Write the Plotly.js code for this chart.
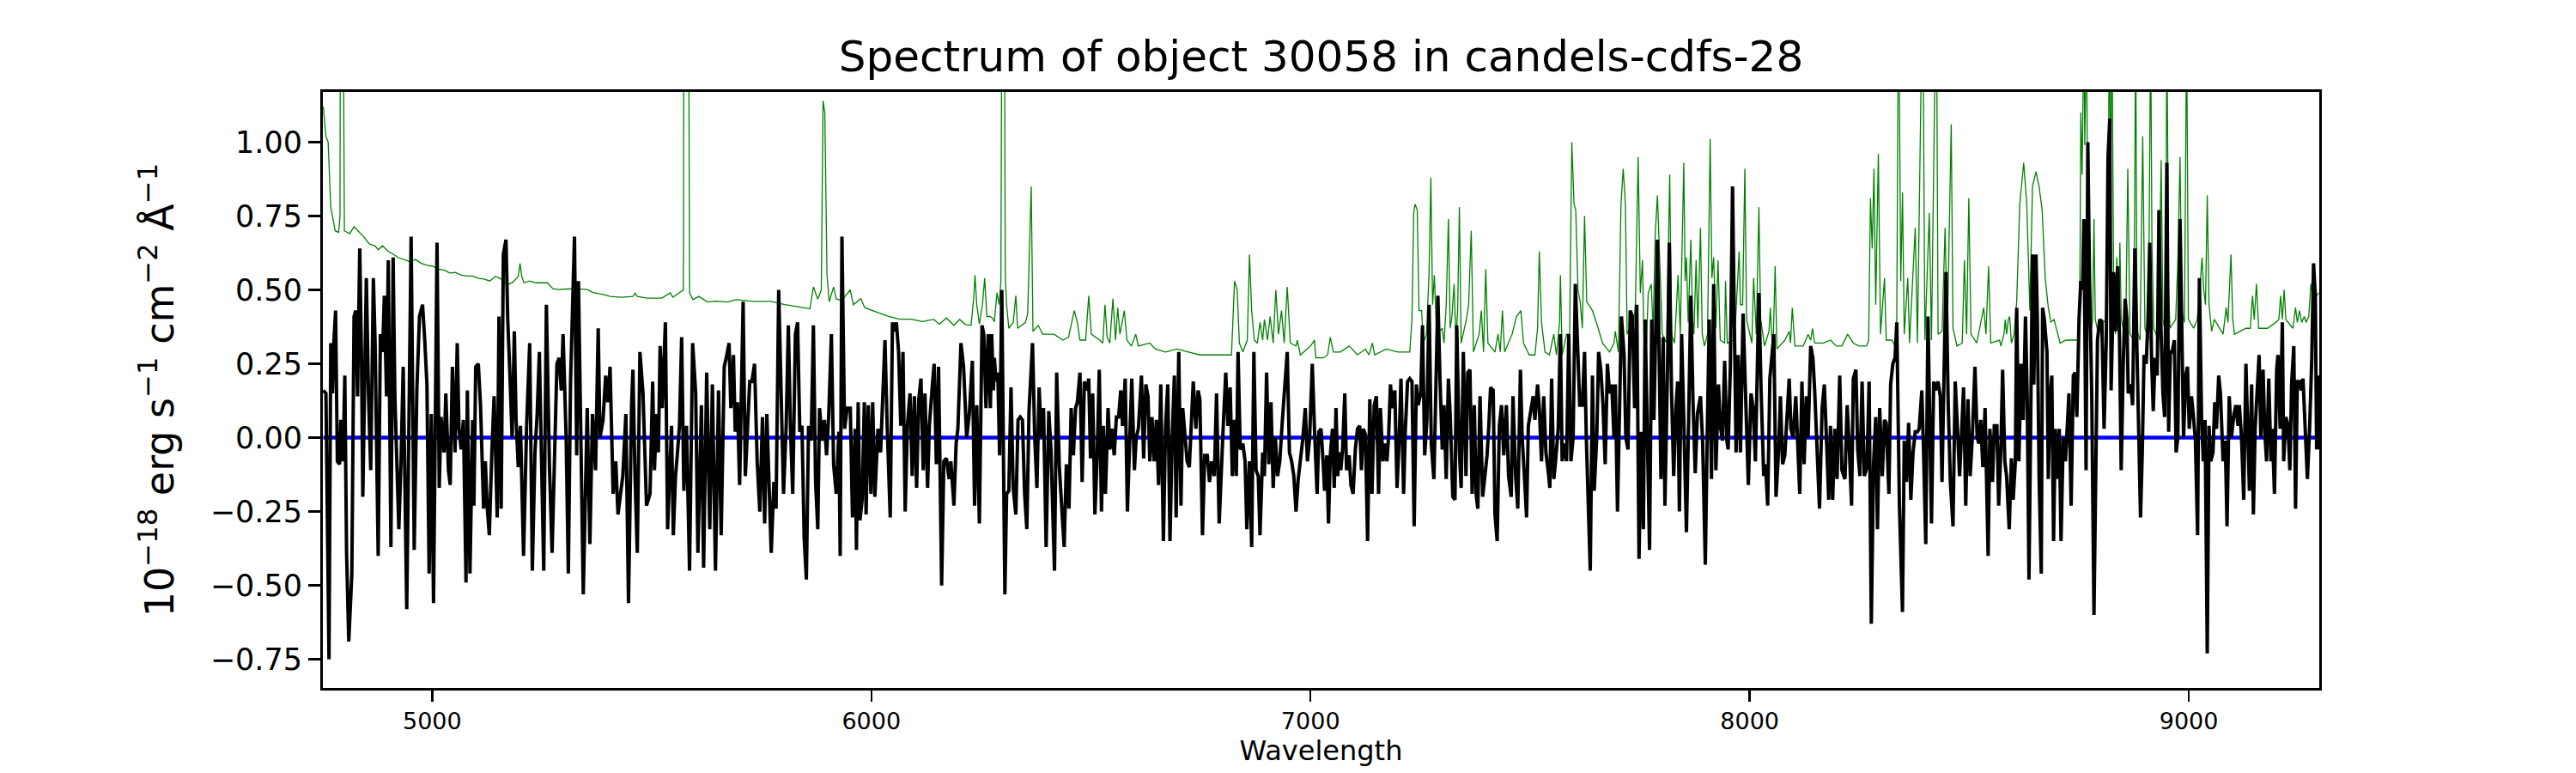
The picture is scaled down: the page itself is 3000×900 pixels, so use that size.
<!DOCTYPE html>
<html>
<head>
<meta charset="utf-8">
<script src="https://cdn.plot.ly/plotly-3.0.1.min.js"></script>
<style>
html,body{margin:0;padding:0;background:#fff;}
#chart{width:3000px;height:900px;}
</style>
</head>
<body>
<div id="chart"></div>
<script>
// Observed flux (black)
const lamFlux = [4752,4758,4765,4769,4773,4776,4780,4784,4789,4792,4797,4801,4805,4810,4817,4822,4826,4830,4835,4839,4842,4850,4855,4860,4866,4870,4877,4882,4887,4891,4896,4900,4906,4911,4915,4924,4929,4934,4942,4952,4959,4965,4971,4978,4983,4988,4993,4998,5003,5011,5016,5020,5027,5031,5037,5041,5046,5052,5057,5061,5066,5071,5077,5080,5086,5092,5095,5099,5105,5110,5117,5121,5125,5130,5136,5141,5148,5152,5157,5162,5168,5172,5177,5182,5187,5191,5196,5201,5208,5215,5222,5228,5234,5239,5244,5254,5260,5267,5273,5279,5284,5289,5294,5298,5305,5310,5315,5324,5329,5333,5339,5344,5353,5359,5365,5372,5378,5382,5389,5395,5400,5405,5412,5418,5423,5430,5434,5441,5447,5454,5457,5462,5467,5473,5480,5488,5496,5502,
5506,5511,5515,5519,5524,5528,5531,5536,5541,5545,5549,5554,5558,5563,5568,5573,5579,5586,5593,5600,5605,5613,5618,5625,5632,5638,5645,5652,5658,5665,5671,5676,5680,5686,5690,5695,5700,5708,5713,5718,5723,5728,5734,5740,5746,5752,5757,5762,5767,5772,5778,5783,5789,5795,5800,5806,5811,5816,5821,5827,5832,5837,5842,5847,5852,5857,5863,5868,5873,5878,5882,5888,5893,5898,5903,5909,5914,5920,5926,5929,5933,5939,5945,5952,5957,5963,5966,5970,5974,5979,5984,5988,5993,5999,6003,6008,6015,6021,6026,6031,6036,6043,6048,6052,6057,6062,6067,6072,6077,6082,6088,6093,6098,6103,6108,6113,6118,6122,6128,6132,6139,6143,6148,6153,6157,6160,6165,6171,6177,6181,6188,6193,6197,6204,6210,6217,6223,6230,6235,6240,6246,6252,6256,6261,
6266,6271,6274,6278,6280,6284,6288,6292,6297,6304,6308,6313,6318,6323,6329,6334,6339,6344,6349,6354,6359,6367,6372,6377,6382,6387,6392,6398,6404,6409,6417,6422,6428,6433,6439,6444,6450,6455,6460,6465,6469,6475,6480,6485,6491,6495,6499,6504,6509,6514,6519,6524,6528,6533,6539,6543,6548,6553,6558,6563,6568,6572,6578,6583,6589,6593,6599,6603,6608,6615,6620,6625,6630,6634,6639,6644,6649,6654,6659,6665,6670,6675,6680,6685,6690,6694,6700,6705,6709,6715,6719,6724,6729,6733,6739,6744,6748,6754,6759,6765,6770,6775,6781,6786,6792,6796,6801,6807,6812,6817,6822,6827,6831,6835,6840,6846,6851,6855,6861,6866,6871,6876,6881,6885,6891,6895,6900,6905,6910,6915,6920,6925,6930,6936,6941,6947,6952,6957,6962,6967,6972,6977,6982,6988,6993,6998,7004,7009,7015,7019,7024,
7029,7032,7037,7041,7045,7050,7054,7058,7062,7066,7069,7073,7078,7082,7088,7092,7097,7102,7107,7112,7116,7120,7125,7130,7135,7140,7145,7150,7155,7159,7165,7169,7174,7178,7182,7187,7192,7197,7202,7206,7212,7216,7221,7226,7231,7236,7241,7245,7251,7255,7260,7265,7270,7275,7281,7285,7290,7295,7300,7304,7309,7314,7318,7324,7329,7333,7339,7343,7348,7354,7358,7363,7368,7373,7377,7381,7386,7392,7396,7402,7406,7410,7416,7420,7425,7430,7435,7440,7446,7451,7457,7461,7467,7472,7478,7482,7487,7492,7496,7501,7507,7511,7517,7521,7526,7531,7536,7541,7545,7549,7554,7558,7564,7569,7573,7578,7583,7588,7593,7598,7603,7608,7613,7619,7624,7628,7632,7637,7642,7646,7652,7656,7661,7666,7671,7676,7681,7686,7691,7694,7699,7704,7708,7714,7718,7723,7728,7733,7738,7743,7748,7753,7758,7762,7768,7772,7777,7782,7790,
7798,7803,7807,7813,7817,7822,7827,7832,7836,7840,7845,7850,7856,7861,7866,7871,7876,7881,7888,7893,7899,7904,7908,7913,7918,7923,7929,7933,7938,7943,7948,7951,7956,7961,7966,7969,7974,7979,7985,7992,7997,8003,8008,8013,8017,8021,8026,8032,8036,8041,8046,8051,8055,8060,8066,8070,8075,8080,8084,8090,8094,8099,8105,8109,8114,8119,8124,8129,8133,8139,8144,8148,8154,8159,8165,8170,8174,8180,8184,8189,8194,8199,8205,8210,8217,8222,8227,8232,8236,8242,8246,8251,8256,8261,8267,8272,8277,8282,8287,8291,8296,8302,8307,8311,8317,8321,8326,8331,8335,8341,8348,8352,8357,8362,8367,8372,8377,8382,8386,8392,8396,8401,8406,8410,8414,8419,8423,8429,8434,8438,8443,8447,8452,8457,8463,8468,8472,8478,8483,8487,8492,8497,8502,8507,8513,8518,8522,8526,8531,8536,8543,8547,8553,8557,
8563,8567,8572,8576,8581,8585,8591,8596,8600,8605,8608,8613,8618,8623,8628,8632,8636,8639,8644,8647,8652,8655,8659,8664,8667,8671,8677,8680,8684,8688,8692,8696,8701,8705,8709,8714,8719,8724,8727,8732,8737,8741,8745,8750,8754,8758,8761,8766,8770,8774,8779,8784,8788,8792,8797,8802,8807,8812,8816,8820,8823,8829,8833,8838,8842,8846,8851,8855,8859,8862,8868,8872,8877,8881,8885,8890,8894,8898,8903,8907,8911,8915,8919,8923,8928,8932,8936,8941,8945,8950,8954,8958,8962,8967,8971,8975,8980,8984,8988,8993,8997,9001,9006,9010,9015,9020,9024,9029,9033,9037,9042,9046,9050,9055,9059,9063,9068,9072,9078,9083,9087,9092,9097,9102,9107,9112,9115,9120,9125,9130,9134,9138,9143,9147,9151,9156,9160,9164,9169,9173,9177,9182,9187,9190,9195,9200,9203,9208,9213,9216,9221,9226,9230,9234,9239,9243,9247,9252,9256,9260,9265,9270,9275,9280,9284,9288,9291,9295,9298];
const flux = [0.16,0.15,-0.75,0.32,0.15,0.32,0.43,-0.08,-0.09,0.06,-0.08,0.21,-0.39,-0.69,-0.46,0.41,0.43,0.14,0.64,0.27,-0.20,0.54,0.14,-0.11,0.54,0.32,-0.40,0.35,0.29,0.48,0.14,0.60,-0.37,0.61,0.14,-0.31,-0.08,0.24,-0.58,0.68,-0.38,0.16,0.41,0.45,0.33,0.18,-0.46,0.08,-0.56,0.66,-0.17,0.07,-0.05,0.15,-0.11,-0.16,0.24,-0.05,0.32,0.03,-0.04,0.06,-0.49,0.16,-0.46,0.06,-0.23,0.24,0.25,0.11,-0.24,-0.08,-0.23,-0.33,-0.04,0.14,-0.27,0.41,-0.24,0.62,0.67,0.40,0.21,0.00,0.36,0.06,-0.10,0.04,-0.40,0.04,0.32,-0.45,-0.05,0.08,0.29,-0.45,0.45,-0.10,-0.39,0.00,0.25,0.27,0.16,0.35,0.00,-0.46,0.19,0.68,-0.06,0.53,-0.11,-0.53,0.10,-0.36,0.08,-0.11,0.37,0.00,0.06,0.21,0.12,0.24,-0.19,-0.08,-0.26,-0.18,-0.13,0.08,-0.56,0.11,0.23,-0.14,-0.39,0.29,0.15,-0.23,-0.19,0.19,
-0.11,0.08,-0.05,0.31,0.10,0.27,0.39,-0.31,-0.13,0.04,-0.33,-0.13,-0.06,0.04,0.34,-0.18,0.04,-0.45,0.32,0.15,-0.39,0.11,-0.44,0.22,-0.31,0.18,-0.45,0.16,-0.33,0.24,0.28,0.32,0.10,0.28,0.02,0.12,-0.16,0.46,-0.13,0.03,0.19,0.19,0.25,-0.08,-0.25,0.07,-0.29,0.08,-0.13,-0.39,-0.15,-0.24,0.50,0.07,-0.19,0.04,0.38,0.02,-0.19,0.35,0.39,0.02,0.04,-0.34,-0.48,0.04,-0.01,0.38,-0.15,-0.31,0.10,-0.01,0.06,-0.06,0.08,0.35,-0.09,-0.19,0.02,-0.40,0.68,0.03,0.10,0.10,-0.27,0.03,-0.38,0.12,-0.28,-0.21,0.12,-0.26,0.11,-0.19,0.12,-0.20,0.03,-0.05,0.18,0.33,0.04,-0.27,0.39,0.36,0.39,0.29,0.04,0.29,-0.25,0.04,0.15,-0.13,0.14,-0.17,0.13,0.20,-0.11,0.15,-0.17,0.04,0.18,0.25,-0.09,0.24,-0.17,-0.50,-0.08,-0.07,-0.14,-0.08,-0.23,-0.02,0.03,0.32,0.24,0.00,0.08,0.26,-0.23,0.11,-0.29,0.38,0.35,0.10,
0.35,0.10,0.35,0.16,0.27,0.19,0.22,-0.06,0.50,-0.53,-0.19,-0.18,0.17,-0.17,-0.26,0.06,0.07,0.06,-0.19,-0.31,0.09,0.32,0.00,-0.17,0.17,0.00,0.10,-0.37,0.09,-0.04,-0.45,0.22,-0.10,-0.21,-0.37,-0.09,-0.24,0.10,-0.06,0.10,0.12,0.22,-0.15,0.19,0.16,0.20,-0.07,0.15,-0.26,-0.07,0.23,-0.25,0.04,-0.19,0.10,-0.04,0.03,-0.06,0.07,0.07,0.16,0.04,0.20,-0.25,0.07,0.20,-0.11,0.00,0.03,0.21,-0.07,0.18,0.14,-0.08,0.07,-0.08,0.06,-0.16,0.18,-0.35,0.04,0.18,-0.35,0.00,0.21,-0.27,0.29,-0.23,0.10,-0.02,-0.08,-0.10,0.04,0.19,0.03,0.16,0.13,-0.33,-0.06,-0.06,-0.15,-0.08,-0.13,0.15,-0.29,-0.13,0.03,0.22,0.04,0.17,-0.13,0.06,-0.13,0.29,-0.04,-0.02,-0.08,-0.31,-0.08,-0.37,0.29,-0.11,-0.13,-0.33,-0.05,-0.13,0.22,-0.09,0.12,-0.17,0.00,-0.13,-0.08,0.06,0.16,0.29,-0.05,-0.08,-0.13,-0.25,-0.14,-0.08,-0.01,0.10,-0.08,0.00,0.25,0.03,-0.19,0.02,0.03,
-0.09,-0.18,-0.06,-0.29,-0.06,0.03,-0.17,0.10,-0.13,-0.05,-0.11,-0.04,0.15,-0.11,-0.06,-0.16,-0.19,-0.04,0.03,0.04,-0.11,0.03,0.01,-0.35,0.13,-0.19,0.11,0.14,-0.19,0.10,-0.08,-0.02,-0.08,0.01,0.18,0.10,0.16,-0.17,0.00,0.20,-0.19,0.03,0.19,0.20,0.19,-0.30,0.18,0.11,0.15,0.38,-0.06,0.06,0.45,-0.02,-0.14,0.12,0.48,0.19,-0.04,0.11,-0.14,0.20,0.08,-0.20,-0.21,0.38,-0.05,-0.17,0.29,-0.13,0.22,0.23,-0.19,0.11,-0.19,-0.24,0.14,-0.20,-0.14,-0.06,0.04,0.17,0.16,-0.26,-0.35,0.04,0.11,-0.06,0.11,-0.13,-0.20,0.14,-0.13,-0.24,0.23,0.00,-0.13,-0.27,0.04,0.09,0.14,0.06,0.18,0.10,-0.08,0.14,-0.05,-0.11,-0.17,0.20,-0.14,-0.08,0.03,0.35,-0.08,-0.02,-0.08,0.35,-0.08,0.00,0.52,0.32,0.11,0.11,0.29,0.00,-0.18,-0.45,0.21,-0.18,0.01,0.29,0.23,0.11,-0.09,0.25,0.15,0.18,0.00,0.18,-0.25,0.08,0.41,0.28,0.00,-0.04,0.43,0.41,0.10,0.45,-0.41,0.02,-0.31,0.40,-0.14,-0.38,0.40,0.06,0.67,
-0.14,0.34,-0.23,0.24,0.66,0.16,-0.13,0.10,0.19,-0.25,0.35,0.06,-0.32,0.06,0.48,0.12,-0.12,0.08,0.14,-0.02,-0.43,0.07,0.40,-0.14,0.52,-0.11,0.18,0.04,-0.01,0.26,-0.01,-0.04,0.24,0.85,0.37,-0.05,0.28,-0.05,0.42,0.12,-0.16,0.15,0.10,-0.08,0.20,0.49,0.16,-0.13,-0.09,-0.23,0.20,0.29,0.35,-0.20,-0.04,0.14,-0.09,-0.06,0.06,0.20,0.03,0.00,0.14,-0.04,-0.19,0.19,-0.09,0.14,0.00,0.31,0.27,0.16,-0.04,-0.24,0.10,0.18,0.03,-0.21,0.04,-0.21,0.03,-0.14,0.21,-0.11,-0.14,0.11,-0.04,-0.23,0.20,0.23,-0.04,-0.13,0.19,-0.13,-0.10,0.19,-0.63,-0.09,0.07,-0.31,0.10,-0.13,0.06,0.05,-0.19,0.18,0.25,0.27,0.39,-0.23,-0.59,-0.01,-0.15,0.05,-0.21,-0.05,0.02,0.02,0.03,0.16,-0.05,-0.36,0.41,-0.02,-0.29,0.19,0.16,0.19,0.14,-0.15,0.19,0.56,0.12,-0.15,-0.30,0.19,0.07,-0.13,0.03,0.17,-0.23,0.13,-0.13,0.00,0.24,0.00,-0.02,0.06,-0.10,0.10,-0.40,0.03,-0.15,0.04,
0.04,-0.23,-0.04,0.23,-0.08,-0.13,-0.31,-0.07,-0.21,-0.08,0.44,-0.08,0.25,0.06,0.41,0.14,-0.48,-0.06,0.62,0.18,0.62,0.41,-0.13,-0.46,0.44,0.40,0.29,-0.14,0.14,0.21,-0.35,0.03,-0.14,0.03,-0.35,0.00,-0.08,0.06,0.15,-0.23,0.21,0.22,0.07,0.40,0.53,0.50,0.74,-0.11,1.00,0.53,0.14,-0.60,-0.06,0.33,0.40,0.39,0.03,0.33,0.95,1.08,0.16,0.56,0.36,0.58,0.35,-0.11,0.27,0.47,0.40,0.15,0.18,0.11,0.64,0.35,0.03,-0.27,-0.05,0.28,0.25,0.40,0.66,0.28,0.09,0.27,0.21,0.77,0.40,0.15,0.07,0.93,0.02,0.29,0.29,0.33,-0.05,0.00,0.74,0.32,0.00,0.21,0.24,0.03,0.14,0.08,-0.01,-0.33,0.54,0.07,-0.08,0.06,-0.73,0.04,-0.08,-0.05,0.12,0.03,0.21,0.15,-0.08,-0.01,-0.30,0.14,0.00,0.07,0.11,0.04,0.11,0.00,-0.21,0.25,0.04,-0.18,0.18,-0.26,0.03,0.19,0.28,0.00,0.23,0.02,-0.08,0.20,-0.08,0.03,-0.19,0.23,0.28,0.03,0.39,-0.08,0.07,0.04,-0.11,0.18,0.31,-0.24,0.19,0.19,0.16,0.20,0.00,-0.14,0.03,0.27,0.59,0.48,-0.04,0.21,-0.04];

// Noise / error spectrum (green)
const lamErr = [4752,4758,4763,4769,4779,4787,4790,4791,4797,4799,4800,4812,4822,4831,4844,4857,4870,4877,4887,4900,4910,4923,4936,4949,4962,4975,4988,5001,5014,5027,5040,5053,5066,5079,5092,5105,5118,5131,5144,5157,5170,5183,5196,5200,5204,5209,5222,5236,5249,5262,5275,5288,5307,5327,5353,5366,5392,5405,5431,5457,5462,5467,5490,5523,5542,5548,5562,5568,5572,5573,5584,5586,5594,5607,5627,5646,5673,5692,5731,5770,5803,5842,5860,5868,5878,5886,5890,5894,5896,5899,5904,5914,5920,5933,5952,5959,5976,5985,6012,6038,6064,6090,6116,6142,6155,6171,6188,6201,6214,6227,6233,6236,6240,6246,6253,6258,6263,6270,6276,6280,6286,6291,6295,6297,6303,6305,
6308,6313,6323,6329,6333,6351,6356,6364,6368,6380,6390,6416,6436,6449,6462,6469,6475,6488,6495,6501,6520,6527,6532,6537,6543,6550,6556,6561,6566,6576,6582,6592,6602,6608,6634,6647,6670,6696,6722,6748,6775,6820,6827,6833,6838,6846,6856,6861,6866,6872,6879,6885,6891,6895,6902,6908,6915,6921,6927,6934,6940,6947,6954,6967,6970,6977,7000,7009,7012,
7029,7039,7045,7052,7068,7088,7107,7125,7133,7141,7146,7172,7199,7226,7231,7235,7238,7243,7247,7253,7257,7264,7270,7274,7278,7282,7287,7300,7304,7309,7314,7318,7322,7327,7331,7335,7339,7343,7355,7360,7366,7371,7384,7389,7394,7399,7404,7420,7427,7432,7437,7442,7459,7469,7479,7485,7498,7511,7517,7521,7526,7534,7544,7554,7560,7567,7569,7573,7583,7590,7595,7600,7604,7609,7614,7619,7624,7629,7642,7655,7665,7681,7691,7694,7701,7707,7712,7717,7721,7727,7733,7740,7746,7751,7756,7759,7765,7769,7776,7780,7785,7790,7796,7801,7811,
7818,7822,7829,7837,7842,7850,7853,7856,7860,7866,7870,7873,7878,7882,7888,7892,7897,7904,7910,7914,7918,7923,7928,7933,7943,7945,7949,7963,7968,7976,7979,7984,7989,7993,8005,8009,8015,8021,8025,8034,8044,8047,8051,8054,8058,8062,8080,8090,8093,8097,8103,8122,8133,8139,8143,8148,8168,8184,8197,8210,8223,8236,8249,8266,8271,8275,8279,8283,8287,8293,8298,8307,8311,8324,8331,8335,8339,8344,8348,8352,8360,8364,8377,8382,8394,8399,8409,8414,8425,8429,8438,8445,8450,8459,8463,8472,8484,8489,8494,8499,8504,8517,8533,8538,8544,8549,8569,
8572,8579,8582,8585,8589,8592,8596,8602,8608,8615,8624,8631,8638,8644,8652,8659,8666,8670,8673,8680,8686,8693,8698,8707,8720,8733,8747,8752,8754,8757,8761,8763,8767,8771,8776,8781,8784,8787,8794,8801,8810,8815,8819,8822,8825,8829,8833,8836,8840,8843,8846,8856,8861,8866,8875,8879,8882,8889,8895,8900,8908,8913,8916,8920,8931,8937,8941,8947,8950,8954,8957,8970,8975,8980,8984,8990,8995,8999,9011,9019,9025,9030,9034,9038,9042,9046,9052,9058,9071,9078,9085,9089,9096,9100,9104,9130,9140,9145,9149,9154,9159,9179,9198,9205,9209,9213,9217,9221,9237,9243,9247,9252,9257,9263,9267,9273,9278,9283,9286,9291,9296];
const err = [1.12,1.02,1.00,0.78,0.70,0.695,0.75,1.6,1.6,0.71,0.70,0.69,0.714,0.70,0.68,0.655,0.649,0.636,0.649,0.63,0.622,0.609,0.603,0.596,0.603,0.59,0.583,0.58,0.57,0.567,0.557,0.559,0.55,0.547,0.547,0.539,0.537,0.53,0.546,0.537,0.517,0.525,0.545,0.59,0.545,0.524,0.53,0.524,0.524,0.524,0.504,0.501,0.503,0.504,0.501,0.491,0.484,0.478,0.475,0.478,0.489,0.478,0.472,0.472,0.49,0.475,0.49,0.497,0.50,1.5,1.5,0.49,0.467,0.478,0.459,0.462,0.459,0.467,0.461,0.461,0.45,0.441,0.436,0.51,0.469,0.50,1.14,1.10,0.925,0.55,0.46,0.51,0.469,0.465,0.50,0.45,0.47,0.44,0.425,0.411,0.401,0.401,0.393,0.40,0.384,0.405,0.38,0.40,0.383,0.38,0.471,0.55,0.45,0.384,0.45,0.54,0.41,0.41,0.404,0.392,0.49,0.45,0.529,1.5,1.5,0.54,
0.45,0.37,0.39,0.48,0.37,0.39,0.42,0.85,0.36,0.38,0.35,0.35,0.33,0.34,0.43,0.39,0.33,0.33,0.48,0.35,0.33,0.32,0.45,0.34,0.32,0.47,0.33,0.44,0.35,0.43,0.33,0.31,0.35,0.31,0.32,0.30,0.29,0.30,0.29,0.28,0.28,0.28,0.53,0.50,0.32,0.29,0.33,0.62,0.43,0.33,0.32,0.39,0.33,0.40,0.33,0.41,0.32,0.50,0.35,0.43,0.32,0.51,0.32,0.31,0.33,0.28,0.31,0.33,0.27,
0.27,0.28,0.34,0.29,0.29,0.31,0.28,0.30,0.28,0.32,0.28,0.30,0.29,0.29,0.40,0.76,0.79,0.77,0.43,0.43,0.32,0.35,0.56,0.88,0.45,0.55,0.35,0.37,0.32,0.45,0.74,0.37,0.41,0.52,0.33,0.43,0.78,0.32,0.40,0.45,0.70,0.29,0.35,0.43,0.29,0.57,0.32,0.29,0.35,0.29,0.43,0.29,0.35,0.41,0.43,0.32,0.28,0.28,0.37,0.63,0.39,0.29,0.28,0.35,0.28,0.39,0.55,0.28,0.35,0.35,1.00,0.79,0.77,0.50,0.46,0.37,0.75,0.46,0.43,0.37,0.32,0.29,0.32,0.36,0.29,0.79,0.91,0.79,0.35,0.37,0.33,0.46,0.95,0.49,0.60,0.35,0.31,0.49,0.52,0.36,0.69,0.82,0.57,0.35,0.32,
0.89,0.35,0.32,0.55,0.35,0.93,0.53,0.61,0.39,0.67,0.40,0.35,0.60,0.37,0.71,0.35,0.31,0.35,1.01,0.54,0.61,0.37,0.60,0.33,0.32,0.53,0.32,0.33,0.40,0.63,0.45,0.45,0.91,0.40,0.32,0.54,0.35,0.78,0.40,0.31,0.36,0.44,0.32,0.35,0.58,0.30,0.33,0.36,0.32,0.44,0.31,0.31,0.35,0.33,0.37,0.32,0.32,0.33,0.31,0.31,0.35,0.32,0.31,0.31,0.33,0.81,0.64,0.91,0.45,0.96,0.35,0.54,0.33,0.33,0.31,0.40,1.6,0.53,0.83,0.35,0.54,0.32,0.71,0.32,1.6,0.33,0.76,0.33,1.6,0.35,0.36,0.71,0.35,1.06,0.37,0.31,0.32,0.60,0.35,0.81,0.35,0.32,0.44,0.35,0.58,0.32,0.33,
0.31,0.35,0.40,0.35,0.40,0.41,0.32,0.35,0.46,0.79,0.93,0.79,0.43,0.85,0.90,0.85,0.77,0.66,0.54,0.44,0.39,0.40,0.37,0.32,0.33,0.33,0.33,0.53,1.10,0.89,1.4,0.99,1.4,0.40,0.35,0.40,0.74,0.40,0.35,0.40,0.39,0.53,1.4,0.86,1.4,0.46,0.35,0.61,0.35,0.66,0.40,0.33,0.91,0.35,0.33,1.4,0.36,0.33,1.02,0.37,0.33,1.4,0.66,0.37,0.33,0.94,0.40,0.35,1.4,0.50,0.37,0.40,0.60,0.95,0.43,0.39,1.4,0.40,0.37,0.40,0.50,0.61,0.50,0.45,0.82,0.45,0.36,0.40,0.37,0.35,0.44,0.39,0.62,0.40,0.35,0.37,0.37,0.48,0.40,0.52,0.37,0.37,0.39,0.40,0.48,0.40,0.50,0.40,0.37,0.44,0.39,0.43,0.39,0.41,0.39,0.41,0.52,0.47,0.49,0.48,0.49];

// Zero / model level (blue)
const lamZero = [4752, 9290];
const zero = [0, 0];

const xTickVals = [5000, 6000, 7000, 8000, 9000];
const yTickVals = [-0.75, -0.50, -0.25, 0.00, 0.25, 0.50, 0.75, 1.00];

const titleText = 'Spectrum of object 30058 in candels-cdfs-28';
const xTitle = 'Wavelength';
const yTitle = '10<sup>\u221218</sup> erg s<sup>\u22121</sup> cm<sup>\u22122</sup> \u00c5<sup>\u22121</sup>';

const FONT = 'DejaVu Sans, Verdana, sans-serif';

const traces = [
  {x: lamZero, y: zero, type: 'scatter', mode: 'lines', line: {color: '#0000ff', width: 4.5}, hoverinfo: 'skip'},
  {x: lamErr, y: err, type: 'scatter', mode: 'lines', line: {color: '#008000', width: 1.3}, hoverinfo: 'skip'},
  {x: lamFlux, y: flux, type: 'scatter', mode: 'lines', line: {color: '#000000', width: 4}, hoverinfo: 'skip'}
];

const layout = {
  width: 3000, height: 900,
  paper_bgcolor: '#ffffff', plot_bgcolor: '#ffffff',
  showlegend: false,
  margin: {l: 376, r: 299, t: 107, b: 99, pad: 0},
  font: {family: FONT, color: '#000000'},
  title: {text: titleText, font: {family: FONT, size: 50, color: '#000000'},
          x: 0.5, xref: 'paper', xanchor: 'center', y: 0.927, yref: 'container', yanchor: 'middle'},
  xaxis: {
    range: [4751, 9297], showgrid: false, zeroline: false,
    showline: true, mirror: true, linecolor: '#000000', linewidth: 3,
    ticks: 'outside', ticklen: 13, tickwidth: 2.5, tickcolor: '#000000',
    tickmode: 'array', tickvals: xTickVals, tickformat: 'd',
    tickfont: {family: FONT, size: 27, color: '#000000'},
    title: {text: xTitle, font: {family: FONT, size: 32, color: '#000000'}, standoff: 8},
    automargin: false
  },
  yaxis: {
    range: [-0.847, 1.17], showgrid: false, zeroline: false,
    showline: true, mirror: true, linecolor: '#000000', linewidth: 3,
    ticks: 'outside', ticklen: 14, tickwidth: 2.5, tickcolor: '#000000',
    tickmode: 'array', tickvals: yTickVals, tickformat: '.2f',
    tickfont: {family: FONT, size: 35, color: '#000000'},
    title: {text: yTitle, font: {family: FONT, size: 46, color: '#000000'}, standoff: 28},
    automargin: false
  }
};

Plotly.newPlot('chart', traces, layout, {staticPlot: true, displayModeBar: false});
</script>
</body>
</html>
